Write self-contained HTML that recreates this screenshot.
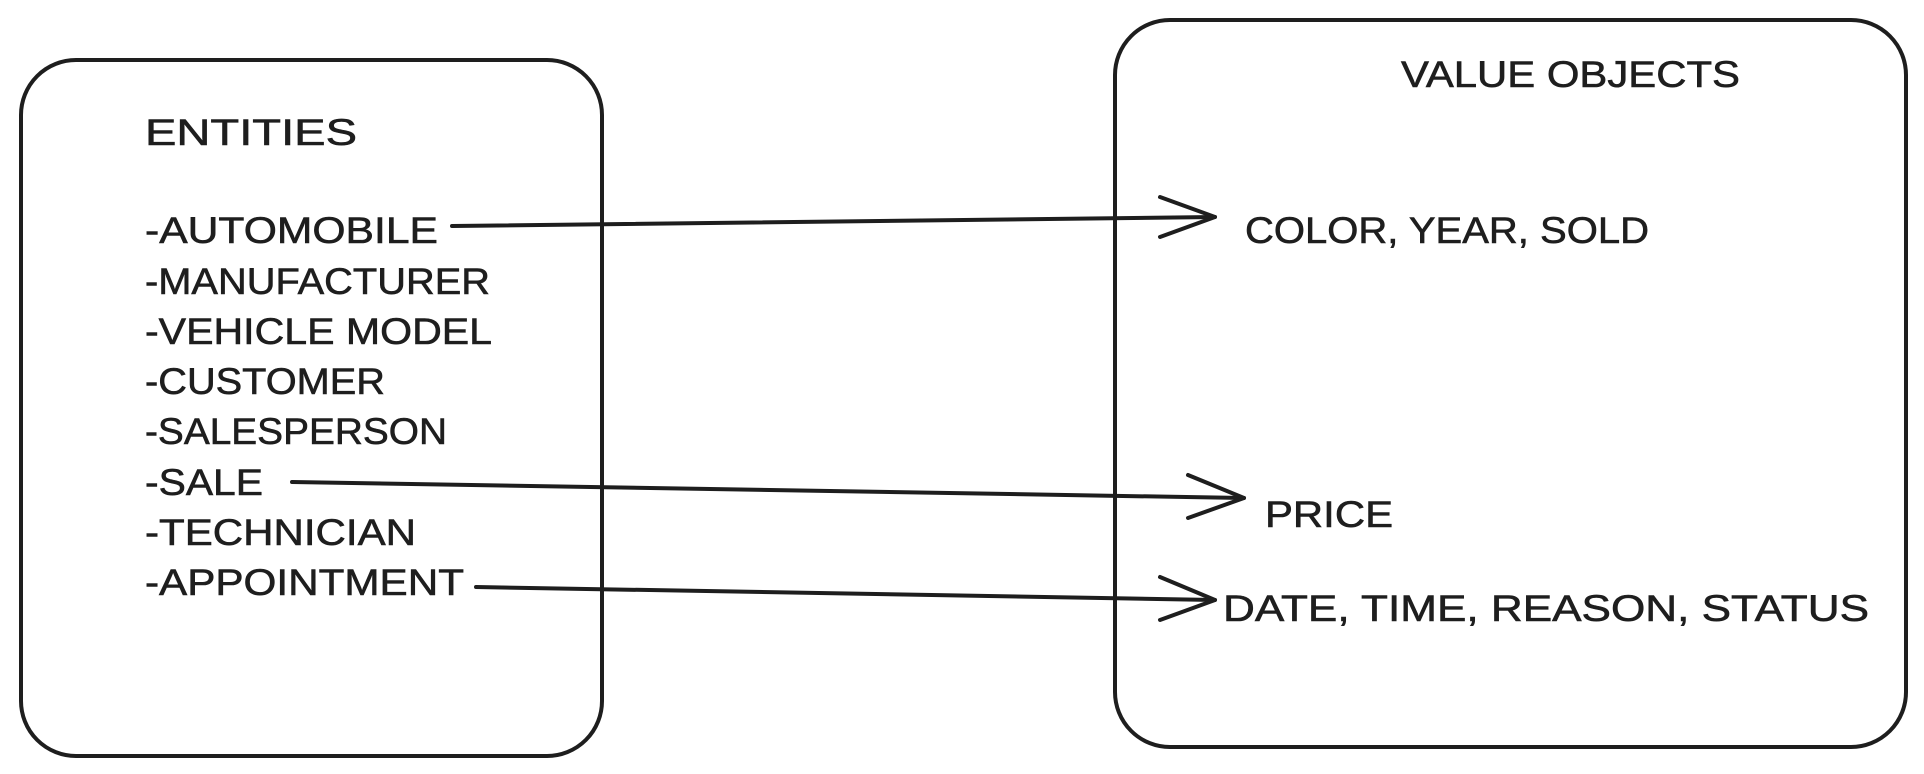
<!DOCTYPE html>
<html><head><meta charset="utf-8"><style>html,body{margin:0;padding:0;background:#fff;width:1924px;height:774px;overflow:hidden}</style></head>
<body>
<svg width="1924" height="774" viewBox="0 0 1924 774" xmlns="http://www.w3.org/2000/svg">
<g fill="none" stroke="#1e1e1e" stroke-width="4" stroke-linecap="round" stroke-linejoin="round">
<rect x="21" y="60" width="581" height="696" rx="55"/>
<rect x="1115" y="20" width="791" height="727" rx="55"/>
<path d="M452 226 L1215 217"/><path d="M1160 197 L1215 217 L1160 237"/>
<path d="M292 482 L1244 498"/><path d="M1188 475 L1244 498 L1188 518"/>
<path d="M476 587 L1215 600"/><path d="M1160 577 L1215 600 L1160 620"/>
</g>
<g font-family="Liberation Sans, sans-serif" font-size="37" fill="#1e1e1e" stroke="#1e1e1e" stroke-width="0.6">
<text x="145" y="145" textLength="212" lengthAdjust="spacingAndGlyphs">ENTITIES</text>
<text x="145" y="243" textLength="293" lengthAdjust="spacingAndGlyphs">-AUTOMOBILE</text>
<text x="145" y="294" textLength="345" lengthAdjust="spacingAndGlyphs">-MANUFACTURER</text>
<text x="145" y="344" textLength="347" lengthAdjust="spacingAndGlyphs">-VEHICLE MODEL</text>
<text x="145" y="394" textLength="240" lengthAdjust="spacingAndGlyphs">-CUSTOMER</text>
<text x="145" y="444" textLength="302" lengthAdjust="spacingAndGlyphs">-SALESPERSON</text>
<text x="145" y="495" textLength="118" lengthAdjust="spacingAndGlyphs">-SALE</text>
<text x="145" y="545" textLength="271" lengthAdjust="spacingAndGlyphs">-TECHNICIAN</text>
<text x="145" y="595" textLength="319" lengthAdjust="spacingAndGlyphs">-APPOINTMENT</text>
<text x="1401" y="87" textLength="339" lengthAdjust="spacingAndGlyphs">VALUE OBJECTS</text>
<text x="1245" y="243" textLength="404" lengthAdjust="spacingAndGlyphs">COLOR, YEAR, SOLD</text>
<text x="1265" y="527" textLength="128" lengthAdjust="spacingAndGlyphs">PRICE</text>
<text x="1223" y="621" textLength="646" lengthAdjust="spacingAndGlyphs">DATE, TIME, REASON, STATUS</text>
</g>
</svg>
</body></html>
